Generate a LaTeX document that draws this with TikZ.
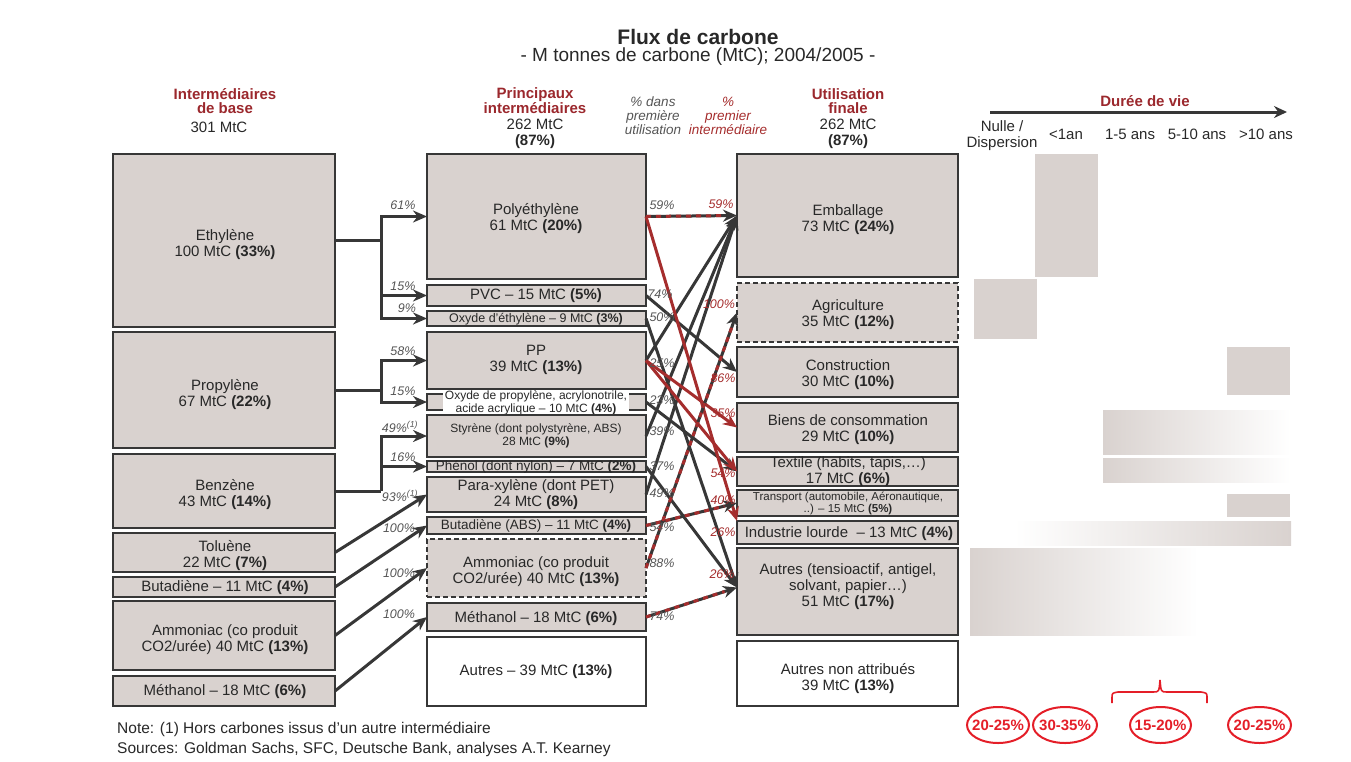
\documentclass[tikz,border=0pt]{standalone}
\usepackage{fontspec}
\setmainfont{Liberation Sans}
\usetikzlibrary{arrows.meta,calc}
\definecolor{bgray}{RGB}{217,210,207}
\definecolor{dkline}{RGB}{55,55,55}
\definecolor{hred}{RGB}{155,40,45}
\definecolor{lred}{RGB}{165,45,45}
\definecolor{ered}{RGB}{228,30,40}
\definecolor{txt}{RGB}{40,40,40}
\definecolor{pgray}{RGB}{85,85,85}
\begin{document}
\begin{tikzpicture}[x=1pt,y=-1pt,
 box/.style={draw=dkline, line width=1.8pt, fill=bgray, inner sep=0pt, outer sep=0pt},
 wbox/.style={box, fill=white},
 dbox/.style={box, dash pattern=on 5pt off 3pt, line width=2.2pt},
 sz/.style n args={2}{minimum width=#1, minimum height=#2},
 lbl/.style={text=txt, align=center, font=\fontsize{15}{16}\selectfont, inner sep=0pt},
 mlbl/.style={lbl, font=\fontsize{13.5}{14}\selectfont},
 slbl/.style={lbl, font=\fontsize{12}{12.5}\selectfont},
 pct/.style={text=pgray, font=\itshape\fontsize{12.5}{13}\selectfont, inner sep=0pt},
 rpct/.style={pct, text=lred},
 hdr/.style={text=hred, font=\bfseries\fontsize{15}{14}\selectfont, align=center, inner sep=0pt},
 arr/.style={draw=dkline, line width=3pt, -{Stealth[length=14pt,width=12pt]}},
 rarr/.style={draw=lred, line width=3pt, -{Stealth[length=14pt,width=12pt]}},
 rdash/.style={draw=lred, line width=3pt, dash pattern=on 5pt off 5pt, shorten >=13pt},
 plain/.style={draw=dkline, line width=3pt},
 etxt/.style={text=ered, font=\bfseries\fontsize{15}{16}\selectfont, inner sep=0pt},
]
\useasboundingbox (0,0) rectangle (1351,761);

% ---------- titles ----------
\node[text=txt, font=\bfseries\fontsize{21}{22}\selectfont] (title) at (698,37) {Flux de carbone};
\node[text=txt, font=\fontsize{19}{20}\selectfont] (subtitle) at (698,57) {- M tonnes de carbone (MtC); 2004/2005 -};

\node[hdr] (h1) at (225,101) {Intermédiaires\\de base};
\node[lbl] (h1b) at (219,127) {301 MtC};
\node[hdr] (h2) at (535,101) {Principaux\\intermédiaires};
\node[lbl] (h2b) at (535,134) {262 MtC\\\textbf{(87\%)}};
\node[text=pgray, font=\itshape\fontsize{13.5}{14}\selectfont, align=center, inner sep=0pt] (h3) at (653,116) {\% dans\\première\\utilisation};
\node[text=lred, font=\itshape\fontsize{13.5}{14}\selectfont, align=center, inner sep=0pt] (h4) at (728,116) {\%\\premier\\intermédiaire};
\node[hdr] (h5) at (848,101) {Utilisation\\finale};
\node[lbl] (h5b) at (848,134) {262 MtC\\\textbf{(87\%)}};

% ---------- left column ----------
\node[box, sz={222pt}{173pt}] (eth) at (224,240.5) {};
\node[lbl] at (225,245) {Ethylène\\100 MtC \textbf{(33\%)}};
\node[box, sz={222pt}{116pt}] (pro) at (224,390) {};
\node[lbl] at (225,395) {Propylène\\67 MtC \textbf{(22\%)}};
\node[box, sz={222pt}{74pt}] (ben) at (224,491) {};
\node[lbl] at (225,495) {Benzène\\43 MtC \textbf{(14\%)}};
\node[box, sz={222pt}{39pt}] (tol) at (224,552.5) {};
\node[lbl] at (225,556) {Toluène\\22 MtC \textbf{(7\%)}};
\node[box, sz={222pt}{20pt}] (but) at (224,587) {};
\node[lbl] at (225,588) {Butadiène -- 11 MtC \textbf{(4\%)}};
\node[box, sz={222pt}{69pt}] (amm) at (224,635.5) {};
\node[lbl] at (225,640) {Ammoniac (co produit\\CO2/urée) 40 MtC \textbf{(13\%)}};
\node[box, sz={222pt}{30pt}] (met) at (224,691) {};
\node[lbl] at (225,692) {Méthanol -- 18 MtC \textbf{(6\%)}};

% ---------- middle column ----------
\node[box, sz={219pt}{125pt}] (pe) at (536.5,216.5) {};
\node[lbl] at (536,219) {Polyéthylène\\61 MtC \textbf{(20\%)}};
\node[box, sz={219pt}{21pt}] (pvc) at (536.5,295.5) {};
\node[lbl] at (536,296) {PVC -- 15 MtC \textbf{(5\%)}};
\node[box, sz={219pt}{15pt}] (oe) at (536.5,318.5) {};
\node[slbl, font=\fontsize{12.5}{13}\selectfont] at (536,319.5) {Oxyde d'éthylène -- 9 MtC \textbf{(3\%)}};
\node[box, sz={219pt}{57pt}] (pp) at (536.5,360.5) {};
\node[lbl] at (536,360) {PP\\39 MtC \textbf{(13\%)}};
\node[box, sz={219pt}{16pt}] (op) at (536.5,402) {};
\node[slbl, fill=white, inner xsep=2pt, inner ysep=1pt] at (536,403) {Oxyde de propylène, acrylonotrile,\\acide acrylique -- 10 MtC \textbf{(4\%)}};
\node[box, sz={219pt}{42pt}] (sty) at (536.5,436) {};
\node[slbl] at (536,436) {Styrène (dont polystyrène, ABS)\\28 MtC \textbf{(9\%)}};
\node[box, sz={219pt}{11pt}] (phe) at (536.5,466.5) {};
\node[mlbl] at (536,466.5) {Phénol (dont nylon) -- 7 MtC \textbf{(2\%)}};
\node[box, sz={219pt}{35pt}] (px) at (536.5,494.5) {};
\node[lbl] at (536,495) {Para-xylène (dont PET)\\24 MtC \textbf{(8\%)}};
\node[box, sz={219pt}{17pt}] (bua) at (536.5,525.5) {};
\node[mlbl] at (536,526) {Butadiène (ABS) -- 11 MtC \textbf{(4\%)}};
\node[dbox, sz={219pt}{58pt}] (amm2) at (536.5,568) {};
\node[lbl] at (536,572) {Ammoniac (co produit\\CO2/urée) 40 MtC \textbf{(13\%)}};
\node[box, sz={219pt}{28pt}] (met2) at (536.5,617) {};
\node[lbl] at (536,619) {Méthanol -- 18 MtC \textbf{(6\%)}};
\node[wbox, sz={219pt}{69pt}] (aut2) at (536.5,671.5) {};
\node[lbl] at (536,672) {Autres -- 39 MtC \textbf{(13\%)}};

% ---------- right column ----------
\node[box, sz={221pt}{123pt}] (emb) at (847.5,215.5) {};
\node[lbl] at (848,220) {Emballage\\73 MtC \textbf{(24\%)}};
\node[dbox, sz={221pt}{59pt}] (agr) at (847.5,312.5) {};
\node[lbl] at (848,315) {Agriculture\\35 MtC \textbf{(12\%)}};
\node[box, sz={221pt}{50pt}] (con) at (847.5,372) {};
\node[lbl] at (848,375) {Construction\\30 MtC \textbf{(10\%)}};
\node[box, sz={221pt}{49pt}] (bie) at (847.5,427.5) {};
\node[lbl] at (848,430) {Biens de consommation\\29 MtC \textbf{(10\%)}};
\node[box, sz={221pt}{29pt}] (tex) at (847.5,471.5) {};
\node[lbl] at (848,472) {Textile (habits, tapis,…)\\17 MtC \textbf{(6\%)}};
\node[box, sz={221pt}{26pt}] (tra) at (847.5,503) {};
\node[slbl, font=\fontsize{11.5}{12}\selectfont] at (848,503.5) {Transport (automobile, Aéronautique,\\..) -- 15 MtC \textbf{(5\%)}};
\node[box, sz={221pt}{23pt}] (ind) at (847.5,532.5) {};
\node[lbl] at (849,534) {Industrie lourde \ -- 13 MtC \textbf{(4\%)}};
\node[box, sz={221pt}{87pt}] (aut) at (847.5,591.5) {};
\node[lbl] at (848,587) {Autres (tensioactif, antigel,\\solvant, papier…)\\51 MtC \textbf{(17\%)}};
\node[wbox, sz={221pt}{65pt}] (autn) at (847.5,673.5) {};
\node[lbl] at (848,679) {Autres non attribués\\39 MtC \textbf{(13\%)}};

% ---------- left -> middle connectors ----------
\coordinate (jE) at (381,240.5);
\coordinate (jP) at (381,390);
\coordinate (jB) at (381,491);
\draw[plain] (eth.east) -- (jE);
\draw[arr] (jE) |- (pe.west);
\draw[arr] (jE) |- (pvc.west);
\draw[arr] (jE) |- (oe.west);
\draw[plain] (pro.east) -- (jP);
\draw[arr] (jP) |- (pp.west);
\draw[arr] (jP) |- (op.west);
\draw[plain] (ben.east) -- (jB);
\draw[arr] (jB) |- (sty.west);
\draw[arr] (jB) |- (phe.west);
\draw[arr] (tol.east) -- (px.west);
\draw[arr] (but.east) -- (bua.west);
\draw[arr] (amm.east) -- (amm2.west);
\draw[arr] (met.east) -- (met2.west);

\node[pct] at (403,205) {61\%};
\node[pct] at (403,286) {15\%};
\node[pct] at (407,308) {9\%};
\node[pct] at (403,351) {58\%};
\node[pct] at (403,391) {15\%};
\node[pct] at (400,427) {49\%\textsuperscript{(1)}};
\node[pct] at (403,457) {16\%};
\node[pct] at (400,496) {93\%\textsuperscript{(1)}};
\node[pct] at (399,528) {100\%};
\node[pct] at (399,573) {100\%};
\node[pct] at (399,614) {100\%};

% ---------- middle -> right connectors ----------
\coordinate (autin) at ($(aut.west)+(0,-4)$);
\draw[arr] (pp.east) -- (emb.west);
\draw[arr] (sty.east) -- (emb.west);
\draw[arr] (px.east) -- (emb.west);
\draw[arr] (oe.east) -- (autin);
\draw[arr] (phe.east) -- (autin);
\draw[arr] (op.east) -- (tex.west);
\draw[arr] (pvc.east) -- (con.west);
\draw[rarr] (pe.east) -- (ind.north west);
\draw[rarr] (pp.east) -- (bie.west);
\draw[rarr] (pp.east) -- (tex.west);
% main (dashed) links
\draw[arr] (pe.east) -- (emb.west);
\draw[rdash] (pe.east) -- (emb.west);
\draw[arr] (bua.east) -- (tra.west);
\draw[rdash] (bua.east) -- (tra.west);
\draw[arr] (amm2.east) -- (agr.west);
\draw[rdash] (amm2.east) -- (agr.west);
\draw[arr] (met2.east) -- (autin);
\draw[rdash] (met2.east) -- (autin);

\node[pct] at (662,205) {59\%};
\node[pct] at (660,294) {74\%};
\node[pct] at (662,317) {50\%};
\node[pct] at (662,363) {25\%};
\node[pct] at (662,400) {23\%};
\node[pct] at (662,431) {39\%};
\node[pct] at (662,466) {37\%};
\node[pct] at (662,493) {49\%};
\node[pct] at (662,527) {54\%};
\node[pct] at (662,563) {88\%};
\node[pct] at (662,616) {74\%};

\node[rpct] at (721,204) {59\%};
\node[rpct] at (719,304) {100\%};
\node[rpct] at (723,378) {86\%};
\node[rpct] at (723,413) {35\%};
\node[rpct] at (723,473) {54\%};
\node[rpct] at (723,500) {40\%};
\node[rpct] at (723,532) {26\%};
\node[rpct] at (722,574) {26\%};

% ---------- duree de vie ----------
\node[hdr] (dv) at (1145,101) {Durée de vie};
\coordinate (ax1) at (990,112);
\coordinate (ax2) at (1287,112);
\draw[draw=dkline, line width=3pt, -{Stealth[length=13pt,width=12pt]}] (ax1) -- (ax2);
\node[lbl] (c1) at (1002,136) {Nulle /\\Dispersion};
\node[lbl] (c2) at (1066,134) {<1an};
\node[lbl] (c3) at (1130,134) {1-5 ans};
\node[lbl] (c4) at (1197,134) {5-10 ans};
\node[lbl] (c5) at (1266,134) {>10 ans};

\fill[bgray] (1035,154) rectangle (1098,277);
\fill[bgray] (974,279) rectangle (1037,339);
\fill[bgray] (1227,347) rectangle (1290,395);
\shade[left color=bgray, right color=white] (1103,410) rectangle (1291,454);
\shade[left color=bgray, right color=white] (1103,458) rectangle (1291,482);
\fill[bgray] (1227,494) rectangle (1290,517);
\shade[left color=white, right color=bgray] (1014,521) rectangle (1291,545);
\shade[left color=bgray, right color=white] (970,548) rectangle (1198,635);

% brace
\draw[ered, line width=1.6pt] (1112,703) -- (1112,698) .. controls (1112,693) .. (1118,692) -- (1153,692) .. controls (1159,692) .. (1160,680) .. controls (1161,692) .. (1167,692) -- (1201,692) .. controls (1207,693) .. (1207,698) -- (1207,703);

\node[etxt] (e1) at (998,725) {20-25\%};
\node[etxt] (e2) at (1065,725) {30-35\%};
\node[etxt] (e3) at (1160.5,725) {15-20\%};
\node[etxt] (e4) at (1259.5,725) {20-25\%};
\draw[ered, line width=2pt] (e1) ellipse [x radius=31, y radius=18];
\draw[ered, line width=2pt] (e2) ellipse [x radius=32, y radius=18];
\draw[ered, line width=2pt] (e3) ellipse [x radius=30.5, y radius=18];
\draw[ered, line width=2pt] (e4) ellipse [x radius=31.5, y radius=18];

% notes
\node[lbl, anchor=west, font=\fontsize{15.5}{16}\selectfont] (note) at (117,729) {Note: (1) Hors carbones issus d’un autre intermédiaire};
\node[lbl, anchor=west, font=\fontsize{15.5}{16}\selectfont] (src) at (117,749) {Sources: Goldman Sachs, SFC, Deutsche Bank, analyses A.T. Kearney};
\end{tikzpicture}
\end{document}
